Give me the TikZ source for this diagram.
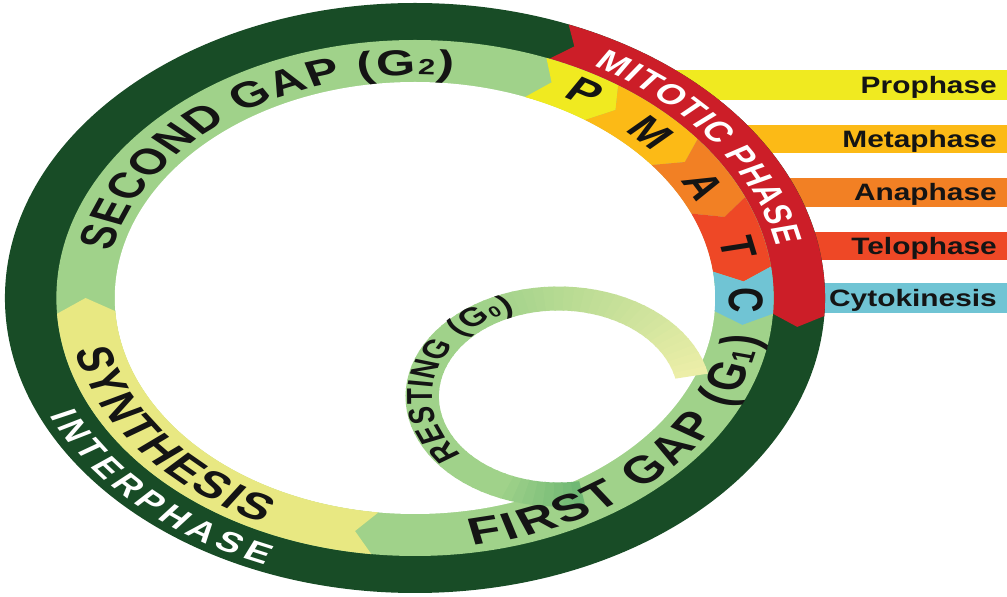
\documentclass[tikz,border=0pt]{standalone}
\usepackage{fontspec}
\setmainfont{Liberation Sans}
\usetikzlibrary{decorations.text}
\definecolor{dkgreen}{RGB}{24,76,38}
\definecolor{ltgreen}{RGB}{160,210,138}
\definecolor{mdgreen}{RGB}{112,184,116}
\definecolor{synyel}{RGB}{232,232,130}
\definecolor{paleyel}{RGB}{236,238,168}
\definecolor{proyel}{RGB}{240,234,32}
\definecolor{metaor}{RGB}{252,186,22}
\definecolor{anaor}{RGB}{242,128,36}
\definecolor{telor}{RGB}{238,72,38}
\definecolor{cytob}{RGB}{112,196,212}
\definecolor{mitred}{RGB}{204,30,40}
\definecolor{txt}{RGB}{20,20,20}
% annular segment: colour, back angle, front angle, inner r, outer r, tip
\newcommand\ringseg[6]{\fill[#1] (#2:#5) arc[start angle=#2, end angle=#3, radius=#5pt] -- ({#3-#6}:{(#4+#5)/2}) -- (#3:#4) arc[start angle=#3, end angle=#2, radius=#4pt] -- ({#2-#6}:{(#4+#5)/2}) -- cycle;}
\newcommand\fsz[1]{\fontsize{#1}{#1}\selectfont\bfseries}
\tikzset{
  bartxt/.style={font=\fsz{23.7}, text=txt, inner sep=0pt, anchor=base east},
  letr/.style={font=\fsz{35}, text=txt, inner sep=0pt},
}
\begin{document}
\begin{tikzpicture}[x=1pt,y=1pt]
\useasboundingbox (0,0) rectangle (1007,597);
\fill[white] (0,0) rectangle (1007,597);
% side bars
\fill[proyel] (650,497) rectangle (1007,527);
\fill[metaor] (700,444) rectangle (1007,472);
\fill[anaor]  (740,390) rectangle (1007,419);
\fill[telor]  (760,337) rectangle (1007,365);
\fill[cytob]  (760,284) rectangle (1007,314);
\node[bartxt] (pro) at (997,503.5) {\scalebox{1.26}[1]{Prophase}};
\node[bartxt] (met) at (997,449.5) {\scalebox{1.26}[1]{Metaphase}};
\node[bartxt] (ana) at (997,396) {\scalebox{1.26}[1]{Anaphase}};
\node[bartxt] (tel) at (997,342.5) {\scalebox{1.26}[1]{Telophase}};
\node[bartxt] (cyt) at (997,290.5) {\scalebox{1.26}[1]{Cytokinesis}};
% the cycle
\begin{scope}[transform canvas={shift={(415pt,299pt)},xscale=1.39}]
  \fill[dkgreen] (0,0) circle[radius=295pt];
  \ringseg{mitred}{68}{-3.5}{258}{295}{2.5}
  \fill[ltgreen] (0,0) circle[radius=258pt];
  \fill[white] (0,0) circle[radius=216pt];
  \ringseg{synyel}{263}{183.5}{216}{258}{3.5}
  \ringseg{proyel}{68.5}{55.5}{216}{258}{3}
  \ringseg{metaor}{55.5}{38}{216}{258}{3}
  \ringseg{anaor}{38}{23}{216}{258}{3}
  \ringseg{telor}{23}{7}{216}{258}{3}
  \ringseg{cytob}{7}{-3.5}{216}{258}{3}
  % resting loop
  \begin{scope}[shift={(103.2,-98.5)}]
    \foreach \i in {0,...,66}{
      \pgfmathsetmacro\aa{280-4*\i}
      \pgfmathsetmacro\ab{max(\aa-4.8,12)}
      \pgfmathsetmacro\f{\i/66}
      \pgfmathtruncatemacro\pg{\f<0.12 ? \f/0.12*100 : 100}
      \pgfmathtruncatemacro\py{\f<0.6 ? 0 : (\f-0.6)/0.4*100}
      \colorlet{lpa}{ltgreen!\pg!mdgreen}
      \colorlet{lpb}{paleyel!\py!lpa}
      \fill[lpb] (\aa:110) arc[start angle=\aa, end angle=\ab, radius=110pt] -- (\ab:86) arc[start angle=\ab, end angle=\aa, radius=86pt] -- cycle;
    }
    \path[decorate, decoration={text along path, text align={fit to path}, text color=txt,
      text={|\fsz{26}|RESTING (G|\fsz{15}|0|\fsz{26}|)}}]
      (220:91) arc[start angle=220, end angle=110, radius=91pt];
  \end{scope}
  % ring texts
  \path[decorate, decoration={text along path, text align={fit to path}, text color=txt,
    text={|\fsz{36}|SECOND GAP (G|\fsz{22}|2|\fsz{36}|)}}]
    (168:223) arc[start angle=168, end angle=83, radius=223pt];
  \path[decorate, decoration={text along path, text align={fit to path}, text color=txt,
    text={|\fsz{37}|SYNTHESIS}}]
    (192:250) arc[start angle=192, end angle=244, radius=250pt];
  \path[decorate, decoration={text along path, text align={fit to path}, text color=white,
    text={|\fsz{28}|INTERPHASE}}]
    (204:288) arc[start angle=204, end angle=248, radius=288pt];
  \path[decorate, decoration={text along path, text align={fit to path}, text color=txt,
    text={|\fsz{38}|FIRST GAP (G|\fsz{23}|1|\fsz{38}|)}}]
    (279.5:251) arc[start angle=279.5, end angle=351, radius=251pt];
  \path[decorate, decoration={text along path, text align={fit to path}, text color=white,
    text={|\fsz{28}|MITOTIC PHASE}}]
    (61:265) arc[start angle=61, end angle=11.5, radius=265pt];
  \node[letr, rotate=-30.7] (lp) at (59.3:239) {P};
  \node[letr, rotate=-45.7] (lm) at (44.3:237) {M};
  \node[letr, rotate=-61.6] (la) at (28.4:236) {A};
  \node[letr, rotate=-77.7] (lt) at (12.3:238) {T};
  \node[letr, rotate=-90.5] (lc) at (-0.5:238) {C};
\end{scope}
\end{tikzpicture}
\end{document}
